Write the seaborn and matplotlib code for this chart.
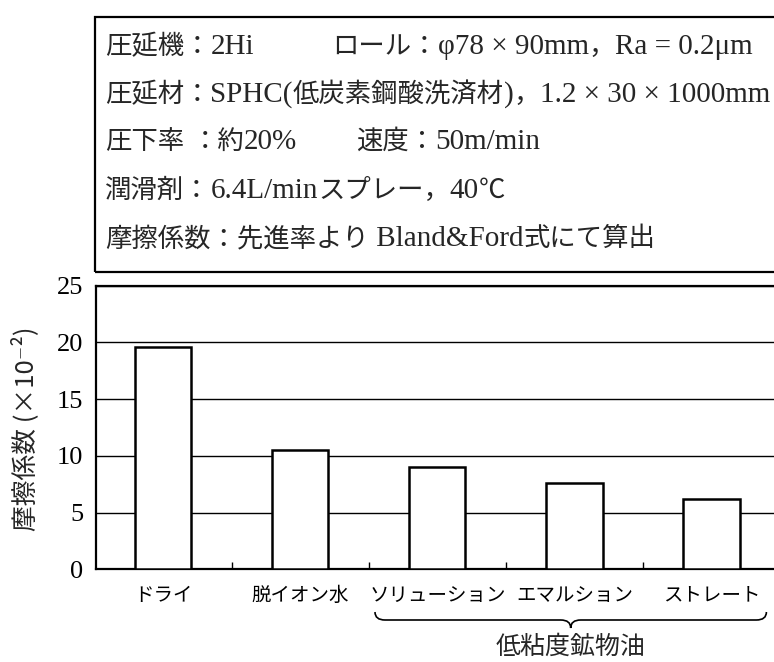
import matplotlib
matplotlib.use("Agg")
import matplotlib.pyplot as plt
import pandas as pd
import seaborn as sns
from matplotlib.path import Path
from matplotlib.patches import PathPatch, Rectangle
from matplotlib.transforms import blended_transform_factory

# Data
categories = ["ドライ", "脱イオン水", "ソリューション", "エマルション", "ストレート"]
friction = [19.6, 10.5, 9.0, 7.6, 6.2]
yticks = [0, 5, 10, 15, 20, 25]
group_label = "低粘度鉱物油"
group_span = (1.545, 4.40)
ylabel = "摩擦係数 (×10⁻²)"
cond_left = [
    "圧延機：2Hi",
    "圧延材：SPHC(低炭素鋼酸洗済材)，1.2 × 30 × 1000mm",
    "圧下率 ：約20%",
    "潤滑剤：6.4L/minスプレー，40℃",
    "摩擦係数：先進率より Bland&Ford式にて算出",
]
cond_right = ["ロール：φ78 × 90mm，Ra = 0.2μm", "", "速度：50m/min", "", ""]

sns.set_theme(style="white")
plt.rcParams["font.family"] = ["Liberation Serif", "Noto Sans CJK JP", "DejaVu Serif"]

W, H = 774, 662
fig = plt.figure(figsize=(W / 100, H / 100), dpi=100)
fig.patch.set_facecolor("white")
renderer = fig.canvas.get_renderer()

# plot area in pixel geometry
ax_l, ax_r, ax_t, ax_b = 96, 776, 285.7, 569.3
ax = fig.add_axes([ax_l / W, (H - ax_b) / H, (ax_r - ax_l) / W, (ax_b - ax_t) / H])

df = pd.DataFrame({"lubricant": categories, "mu": friction})
sns.barplot(data=df, x="lubricant", y="mu", order=categories, color="white",
            saturation=1, edgecolor="black", linewidth=1.8, width=0.41,
            ax=ax, zorder=3)

ax.set_xlim(-0.49, 4.47)
ax.set_ylim(0, 25)
ax.set_yticks(yticks)
ax.set_yticklabels([str(v) for v in yticks])
ax.set_xlabel("")
ax.set_ylabel("")

ax.yaxis.grid(True, color="black", linewidth=1.0)
ax.xaxis.grid(False)
ax.set_axisbelow(True)
for s in ax.spines.values():
    s.set_visible(True)
    s.set_color("black")
    s.set_linewidth(1.6)

ax.tick_params(axis="y", length=0, pad=9, labelsize=19, labelcolor="black")
ax.tick_params(axis="x", which="major", length=0, pad=11, labelsize=14, labelcolor="black")
for lbl in ax.get_xticklabels():
    lbl.set_family(["Noto Sans CJK JP"])
ax.set_xticks([0.5, 1.5, 2.5, 3.5], minor=True)
ax.tick_params(axis="x", which="minor", bottom=True, direction="in", length=5,
               width=1.0, color="black")

# y-axis title
fig.text(25 / W, 1 - 429 / H, ylabel, rotation=90, ha="center", va="center",
         fontsize=18.5, family=["Noto Sans CJK JP", "Liberation Serif", "DejaVu Serif"])

# curly brace grouping the three oil lubricants
tr = blended_transform_factory(ax.transData, fig.transFigure)
x0, x1 = group_span
xc = (x0 + x1) / 2
dx = 10 / 137.2
fy = lambda py: 1 - py / H
verts = [(x0, fy(612)), (x0, fy(620)), (x0 + dx, fy(620)),
         (xc - dx, fy(620)),
         (xc, fy(620)), (xc, fy(628)),
         (xc, fy(620)), (xc + dx, fy(620)),
         (x1 - dx, fy(620)),
         (x1, fy(620)), (x1, fy(612))]
codes = [Path.MOVETO, Path.CURVE3, Path.CURVE3,
         Path.LINETO,
         Path.CURVE3, Path.CURVE3,
         Path.CURVE3, Path.CURVE3,
         Path.LINETO,
         Path.CURVE3, Path.CURVE3]
ax.add_patch(PathPatch(Path(verts, codes), transform=tr, fill=False,
                       edgecolor="black", linewidth=1.2, clip_on=False))
ax.text(xc, fy(647), group_label, transform=tr, ha="center", va="center",
        fontsize=18, family=["Noto Sans CJK JP"], clip_on=False)

# test-condition box
fig.add_artist(Rectangle((95 / W, 1 - 272 / H), (780 - 95) / W, (272 - 17) / H,
                         transform=fig.transFigure, fill=False,
                         edgecolor="black", linewidth=1.6))


def is_cjk(ch):
    return ord(ch) >= 0x3000 or ch in "℃"


def draw_mixed(x_px, base_px, s):
    """Draw a line of mixed Japanese / Latin text, Latin in a serif face."""
    runs = []
    for ch in s:
        kind = is_cjk(ch)
        if runs and runs[-1][0] == kind:
            runs[-1][1] += ch
        else:
            runs.append([kind, ch])
    x = x_px
    for kind, txt in runs:
        if kind:
            t = fig.text(x / W, 1 - base_px / H, txt, ha="left", va="baseline",
                         fontsize=19, family=["Noto Sans CJK JP"])
        else:
            t = fig.text(x / W, 1 - base_px / H, txt, ha="left", va="baseline",
                         fontsize=21, family=["Liberation Serif", "DejaVu Serif"])
        bb = t.get_window_extent(renderer)
        x += bb.width


line_base = [54, 102, 149, 198, 246]
for yb, left, right in zip(line_base, cond_left, cond_right):
    draw_mixed(105, yb, left)
    if right:
        draw_mixed(332 if yb == line_base[0] else 356, yb, right)

fig.savefig("out.png", dpi=100, facecolor="white")
